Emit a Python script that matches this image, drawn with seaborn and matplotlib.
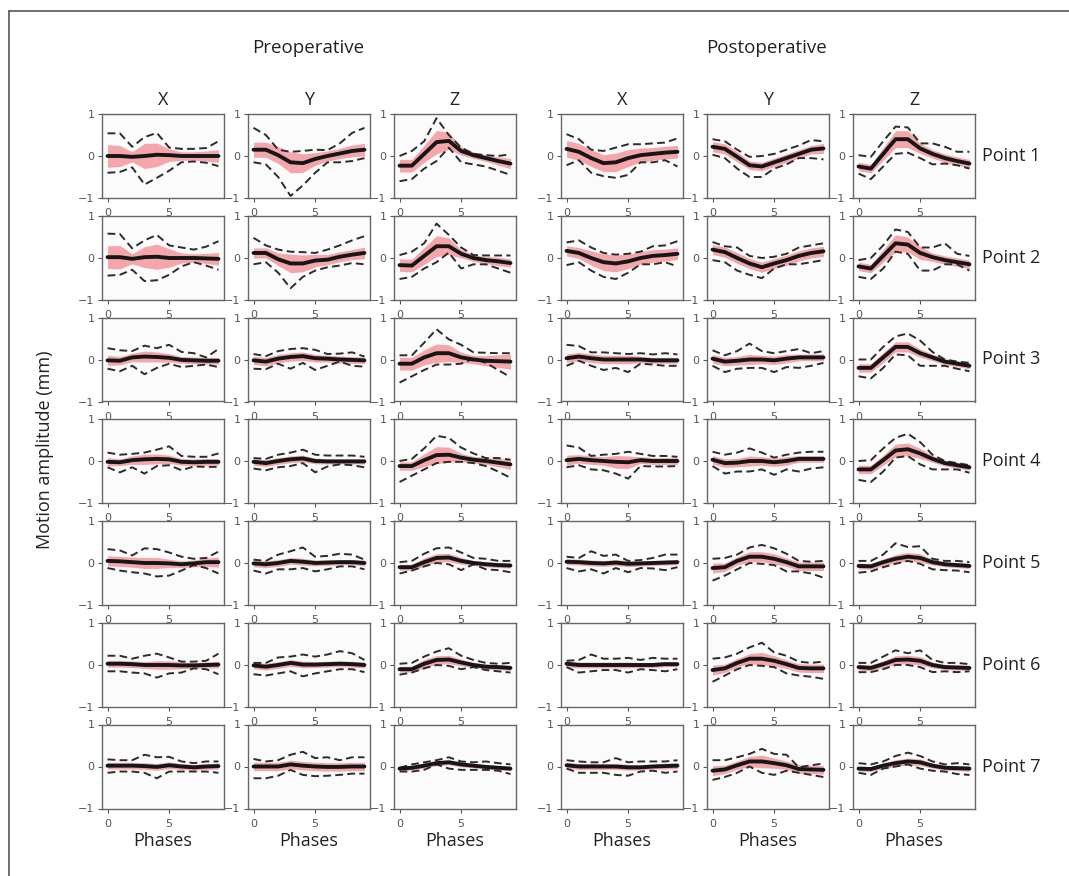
import numpy as np
import matplotlib
matplotlib.use("Agg")
import matplotlib.pyplot as plt
from matplotlib.lines import Line2D
import seaborn as sns

phases = list(range(10))
points = ["Point 1", "Point 2", "Point 3", "Point 4", "Point 5", "Point 6", "Point 7"]
directions = ["X", "Y", "Z"]
groups = ["Preoperative", "Postoperative"]

# ---- Preoperative: mean, sd (band half width), min / max (dashed), one row per point ----
pre_mean_x = [
    [0, 0, -0.02, 0, 0.03, 0.02, 0, 0, 0, 0],
    [0.02, 0.02, -0.02, 0.02, 0.03, 0, 0, 0, -0.01, -0.02],
    [-0.02, -0.03, 0.05, 0.07, 0.06, 0.04, -0.01, -0.02, -0.03, -0.03],
    [-0.02, -0.03, 0.02, 0.04, 0.05, 0.04, -0.02, -0.03, -0.02, -0.02],
    [0.05, 0.04, 0.02, 0.0, 0.0, -0.01, -0.03, -0.01, 0.02, 0.02],
    [0.03, 0.03, 0.02, 0.0, 0.0, 0.0, -0.01, -0.01, 0.0, 0.01],
    [0.02, 0.02, 0.02, 0.01, -0.01, 0.03, 0.0, -0.02, 0.0, 0.01],
]
pre_sd_x = [
    [0.27, 0.25, 0.12, 0.3, 0.28, 0.15, 0.1, 0.1, 0.12, 0.15],
    [0.27, 0.28, 0.12, 0.25, 0.3, 0.22, 0.12, 0.1, 0.12, 0.15],
    [0.12, 0.1, 0.1, 0.13, 0.12, 0.1, 0.08, 0.08, 0.08, 0.08],
    [0.1, 0.08, 0.1, 0.12, 0.12, 0.1, 0.08, 0.08, 0.08, 0.08],
    [0.12, 0.12, 0.12, 0.13, 0.13, 0.1, 0.08, 0.08, 0.1, 0.12],
    [0.08, 0.08, 0.08, 0.08, 0.1, 0.1, 0.08, 0.07, 0.07, 0.08],
    [0.08, 0.08, 0.08, 0.08, 0.08, 0.08, 0.07, 0.07, 0.07, 0.07],
]
pre_lo_x = [
    [-0.4, -0.38, -0.27, -0.68, -0.52, -0.35, -0.15, -0.13, -0.16, -0.24],
    [-0.42, -0.4, -0.28, -0.55, -0.53, -0.4, -0.2, -0.1, -0.18, -0.28],
    [-0.22, -0.28, -0.15, -0.35, -0.2, -0.1, -0.18, -0.15, -0.12, -0.18],
    [-0.15, -0.27, -0.15, -0.3, -0.12, -0.1, -0.22, -0.13, -0.14, -0.14],
    [-0.12, -0.18, -0.22, -0.25, -0.32, -0.3, -0.18, -0.05, -0.12, -0.25],
    [-0.15, -0.15, -0.18, -0.2, -0.3, -0.2, -0.18, -0.08, -0.1, -0.22],
    [-0.15, -0.12, -0.12, -0.15, -0.28, -0.12, -0.12, -0.12, -0.12, -0.15],
]
pre_hi_x = [
    [0.54, 0.54, 0.22, 0.45, 0.55, 0.2, 0.17, 0.17, 0.19, 0.35],
    [0.58, 0.57, 0.23, 0.42, 0.55, 0.3, 0.25, 0.2, 0.27, 0.4],
    [0.27, 0.22, 0.2, 0.33, 0.27, 0.35, 0.18, 0.15, 0.05, 0.25],
    [0.2, 0.15, 0.17, 0.2, 0.27, 0.35, 0.12, 0.1, 0.1, 0.18],
    [0.33, 0.3, 0.18, 0.35, 0.33, 0.25, 0.15, 0.1, 0.12, 0.27],
    [0.22, 0.22, 0.15, 0.22, 0.27, 0.18, 0.08, 0.08, 0.1, 0.27],
    [0.17, 0.15, 0.15, 0.28, 0.22, 0.23, 0.12, 0.08, 0.12, 0.12],
]

pre_mean_y = [
    [0.15, 0.15, 0.02, -0.15, -0.17, -0.07, 0, 0.06, 0.12, 0.15],
    [0.12, 0.12, -0.03, -0.13, -0.13, -0.06, -0.04, 0.03, 0.08, 0.12],
    [-0.02, -0.05, 0.02, 0.06, 0.08, 0.03, 0.02, 0.0, -0.01, -0.02],
    [-0.02, -0.05, 0.0, 0.04, 0.06, 0.0, -0.01, -0.01, -0.01, -0.01],
    [-0.01, -0.03, 0.0, 0.05, 0.03, 0.0, 0.01, 0.02, 0.02, 0.0],
    [-0.01, -0.04, 0.0, 0.05, 0.01, 0.01, 0.02, 0.03, 0.02, 0.0],
    [0.0, 0.0, 0.0, 0.05, 0.02, 0.0, -0.01, -0.01, 0.0, 0.0],
]
pre_sd_y = [
    [0.18, 0.18, 0.2, 0.25, 0.22, 0.15, 0.12, 0.12, 0.14, 0.15],
    [0.12, 0.12, 0.15, 0.22, 0.2, 0.15, 0.12, 0.12, 0.12, 0.14],
    [0.1, 0.1, 0.1, 0.1, 0.1, 0.09, 0.08, 0.08, 0.08, 0.08],
    [0.08, 0.08, 0.08, 0.08, 0.08, 0.07, 0.06, 0.06, 0.06, 0.06],
    [0.08, 0.08, 0.08, 0.08, 0.08, 0.07, 0.07, 0.06, 0.06, 0.07],
    [0.08, 0.08, 0.08, 0.08, 0.08, 0.07, 0.07, 0.07, 0.07, 0.07],
    [0.1, 0.1, 0.1, 0.1, 0.1, 0.1, 0.1, 0.1, 0.1, 0.1],
]
pre_lo_y = [
    [-0.15, -0.2, -0.5, -0.95, -0.7, -0.4, -0.15, -0.15, -0.12, -0.05],
    [-0.15, -0.1, -0.35, -0.72, -0.45, -0.3, -0.22, -0.18, -0.12, -0.15],
    [-0.22, -0.23, -0.1, -0.22, -0.08, -0.25, -0.15, -0.05, -0.15, -0.17],
    [-0.18, -0.22, -0.15, -0.12, -0.05, -0.27, -0.13, -0.08, -0.1, -0.15],
    [-0.18, -0.25, -0.15, -0.15, -0.12, -0.2, -0.15, -0.08, -0.08, -0.15],
    [-0.22, -0.25, -0.2, -0.15, -0.27, -0.2, -0.15, -0.1, -0.1, -0.17],
    [-0.28, -0.28, -0.22, -0.08, -0.2, -0.23, -0.22, -0.2, -0.17, -0.17],
]
pre_hi_y = [
    [0.67, 0.5, 0.15, 0.1, 0.12, 0.15, 0.14, 0.3, 0.55, 0.67],
    [0.48, 0.3, 0.2, 0.15, 0.14, 0.12, 0.2, 0.3, 0.42, 0.52],
    [0.13, 0.08, 0.2, 0.25, 0.27, 0.23, 0.13, 0.14, 0.17, 0.07],
    [0.07, 0.05, 0.15, 0.2, 0.27, 0.15, 0.13, 0.13, 0.13, 0.1],
    [0.08, 0.05, 0.2, 0.28, 0.37, 0.15, 0.17, 0.22, 0.2, 0.08],
    [0.05, 0.05, 0.18, 0.2, 0.25, 0.2, 0.25, 0.33, 0.28, 0.12],
    [0.18, 0.12, 0.15, 0.28, 0.35, 0.2, 0.22, 0.15, 0.22, 0.22],
]

pre_mean_z = [
    [-0.23, -0.23, 0.05, 0.33, 0.36, 0.12, 0.02, -0.05, -0.12, -0.18],
    [-0.17, -0.18, 0.05, 0.28, 0.28, 0.1, 0.0, -0.05, -0.08, -0.12],
    [-0.1, -0.1, 0.05, 0.15, 0.15, 0.05, 0.0, -0.03, -0.04, -0.05],
    [-0.12, -0.12, 0.02, 0.14, 0.15, 0.08, 0.03, 0.0, -0.04, -0.08],
    [-0.1, -0.1, 0.02, 0.12, 0.13, 0.05, 0.0, -0.03, -0.05, -0.06],
    [-0.1, -0.1, 0.03, 0.12, 0.13, 0.06, 0.0, -0.04, -0.05, -0.07],
    [-0.05, -0.03, 0.02, 0.08, 0.1, 0.05, 0.02, -0.01, -0.03, -0.05],
]
pre_sd_z = [
    [0.15, 0.15, 0.2, 0.28, 0.2, 0.1, 0.08, 0.08, 0.1, 0.12],
    [0.15, 0.15, 0.2, 0.25, 0.2, 0.1, 0.08, 0.08, 0.1, 0.1],
    [0.15, 0.15, 0.18, 0.22, 0.2, 0.12, 0.1, 0.12, 0.15, 0.18],
    [0.1, 0.1, 0.15, 0.2, 0.18, 0.1, 0.08, 0.08, 0.1, 0.12],
    [0.07, 0.07, 0.1, 0.1, 0.1, 0.08, 0.06, 0.06, 0.06, 0.06],
    [0.07, 0.07, 0.1, 0.1, 0.1, 0.08, 0.06, 0.06, 0.06, 0.06],
    [0.05, 0.05, 0.06, 0.06, 0.06, 0.06, 0.05, 0.05, 0.05, 0.05],
]
pre_lo_z = [
    [-0.6, -0.55, -0.3, -0.12, 0.2, -0.15, -0.2, -0.25, -0.35, -0.45],
    [-0.5, -0.45, -0.25, -0.1, 0.13, -0.25, -0.15, -0.15, -0.25, -0.35],
    [-0.55, -0.4, -0.25, -0.12, -0.12, -0.1, 0.02, -0.08, -0.25, -0.42],
    [-0.5, -0.35, -0.2, -0.05, -0.02, -0.02, -0.05, -0.12, -0.25, -0.4],
    [-0.25, -0.18, -0.08, 0.0, -0.03, -0.17, -0.03, -0.15, -0.17, -0.22],
    [-0.23, -0.18, -0.08, 0.0, -0.02, -0.1, -0.05, -0.12, -0.15, -0.18],
    [-0.12, -0.12, -0.08, 0.05, -0.05, -0.08, -0.08, -0.08, -0.1, -0.18],
]
pre_hi_z = [
    [0.0, 0.12, 0.35, 0.9, 0.5, 0.2, 0.05, 0.02, 0.0, 0.04],
    [0.07, 0.15, 0.35, 0.82, 0.55, 0.25, 0.07, 0.06, 0.06, 0.06],
    [0.1, 0.1, 0.4, 0.72, 0.48, 0.35, 0.17, 0.16, 0.15, 0.15],
    [0.0, 0.05, 0.3, 0.6, 0.55, 0.32, 0.18, 0.07, 0.07, 0.03],
    [0.02, 0.05, 0.22, 0.35, 0.37, 0.25, 0.12, 0.1, 0.05, 0.05],
    [0.03, 0.05, 0.2, 0.32, 0.4, 0.22, 0.12, 0.05, 0.03, 0.05],
    [-0.03, 0.05, 0.1, 0.15, 0.22, 0.12, 0.1, 0.12, 0.08, 0.05],
]

# ---- Postoperative ----
post_mean_x = [
    [0.17, 0.1, -0.05, -0.17, -0.15, -0.05, 0.02, 0.05, 0.08, 0.1],
    [0.17, 0.12, 0.0, -0.1, -0.13, -0.08, 0.0, 0.05, 0.07, 0.1],
    [0.03, 0.07, 0.03, 0.0, 0.0, 0.0, 0.0, -0.02, -0.02, -0.02],
    [0.02, 0.05, 0.02, 0.0, -0.02, -0.03, 0.02, 0.0, 0.0, 0.0],
    [0.03, 0.02, 0.0, -0.01, 0.01, -0.02, -0.01, 0.0, 0.01, 0.02],
    [0.03, 0.0, 0.0, 0.0, 0.0, 0.0, 0.0, 0.0, 0.02, 0.02],
    [0.03, 0.0, 0.0, 0.0, 0.0, -0.02, -0.02, 0.0, 0.01, 0.02],
]
post_sd_x = [
    [0.2, 0.2, 0.2, 0.2, 0.22, 0.2, 0.17, 0.15, 0.15, 0.15],
    [0.12, 0.13, 0.17, 0.2, 0.2, 0.17, 0.15, 0.15, 0.14, 0.14],
    [0.1, 0.1, 0.1, 0.1, 0.1, 0.1, 0.08, 0.07, 0.07, 0.07],
    [0.12, 0.1, 0.1, 0.1, 0.15, 0.15, 0.08, 0.08, 0.08, 0.08],
    [0.07, 0.07, 0.07, 0.07, 0.07, 0.07, 0.06, 0.06, 0.06, 0.06],
    [0.07, 0.07, 0.07, 0.07, 0.07, 0.07, 0.06, 0.06, 0.06, 0.06],
    [0.07, 0.07, 0.07, 0.07, 0.07, 0.07, 0.06, 0.06, 0.07, 0.07],
]
post_lo_x = [
    [-0.22, -0.1, -0.4, -0.48, -0.52, -0.45, -0.15, -0.15, -0.1, -0.25],
    [-0.17, -0.1, -0.3, -0.45, -0.5, -0.35, -0.15, -0.15, -0.1, -0.2],
    [-0.15, -0.03, -0.15, -0.25, -0.2, -0.3, -0.1, -0.12, -0.15, -0.15],
    [-0.15, -0.1, -0.2, -0.22, -0.3, -0.42, -0.12, -0.13, -0.13, -0.12],
    [-0.12, -0.2, -0.15, -0.25, -0.12, -0.22, -0.12, -0.13, -0.17, -0.1],
    [-0.05, -0.18, -0.15, -0.12, -0.12, -0.18, -0.1, -0.12, -0.15, -0.1],
    [-0.05, -0.15, -0.15, -0.15, -0.2, -0.22, -0.12, -0.1, -0.15, -0.12],
]
post_hi_x = [
    [0.52, 0.4, 0.15, 0.12, 0.2, 0.28, 0.28, 0.3, 0.32, 0.42],
    [0.37, 0.42, 0.25, 0.12, 0.08, 0.1, 0.15, 0.28, 0.3, 0.4],
    [0.35, 0.32, 0.17, 0.17, 0.15, 0.13, 0.15, 0.12, 0.15, 0.12],
    [0.37, 0.32, 0.12, 0.15, 0.17, 0.22, 0.17, 0.12, 0.12, 0.1],
    [0.15, 0.12, 0.28, 0.17, 0.2, 0.05, 0.07, 0.12, 0.2, 0.2],
    [0.1, 0.12, 0.25, 0.15, 0.15, 0.17, 0.12, 0.17, 0.15, 0.15],
    [0.15, 0.12, 0.1, 0.1, 0.2, 0.1, 0.12, 0.12, 0.12, 0.15],
]

post_mean_y = [
    [0.22, 0.17, -0.02, -0.22, -0.25, -0.15, -0.05, 0.05, 0.15, 0.18],
    [0.2, 0.14, 0.0, -0.13, -0.22, -0.13, -0.05, 0.05, 0.12, 0.16],
    [0.02, -0.05, -0.03, 0.0, 0.0, -0.02, 0.02, 0.05, 0.05, 0.05],
    [0.03, -0.05, -0.04, 0.0, 0.0, -0.03, 0.0, 0.05, 0.05, 0.05],
    [-0.12, -0.1, 0.05, 0.15, 0.15, 0.1, 0.02, -0.08, -0.08, -0.08],
    [-0.12, -0.08, 0.05, 0.15, 0.15, 0.1, 0.02, -0.07, -0.08, -0.08],
    [-0.1, -0.07, 0.03, 0.12, 0.12, 0.08, 0.03, -0.06, -0.07, -0.08],
]
post_sd_y = [
    [0.12, 0.12, 0.12, 0.1, 0.1, 0.1, 0.1, 0.1, 0.1, 0.12],
    [0.12, 0.12, 0.13, 0.12, 0.12, 0.12, 0.12, 0.12, 0.12, 0.12],
    [0.1, 0.1, 0.1, 0.12, 0.1, 0.1, 0.1, 0.08, 0.08, 0.08],
    [0.1, 0.1, 0.1, 0.12, 0.1, 0.1, 0.1, 0.08, 0.08, 0.08],
    [0.12, 0.1, 0.1, 0.12, 0.12, 0.12, 0.1, 0.1, 0.1, 0.1],
    [0.12, 0.1, 0.1, 0.12, 0.15, 0.12, 0.1, 0.1, 0.1, 0.1],
    [0.12, 0.1, 0.1, 0.12, 0.15, 0.12, 0.1, 0.1, 0.1, 0.1],
]
post_lo_y = [
    [0.03, -0.05, -0.3, -0.5, -0.5, -0.3, -0.2, -0.05, -0.05, -0.08],
    [-0.05, -0.1, -0.3, -0.4, -0.48, -0.25, -0.15, -0.15, -0.1, -0.05],
    [-0.15, -0.3, -0.22, -0.2, -0.2, -0.3, -0.18, -0.2, -0.15, -0.08],
    [-0.12, -0.3, -0.25, -0.25, -0.2, -0.33, -0.2, -0.25, -0.18, -0.15],
    [-0.42, -0.3, -0.15, 0.0, -0.02, -0.05, -0.2, -0.2, -0.25, -0.35],
    [-0.4, -0.25, -0.1, 0.0, -0.02, -0.05, -0.2, -0.25, -0.28, -0.33],
    [-0.32, -0.25, -0.15, 0.0, -0.15, -0.2, -0.1, -0.15, -0.2, -0.25],
]
post_hi_y = [
    [0.4, 0.35, 0.15, -0.02, 0.0, 0.05, 0.15, 0.25, 0.38, 0.35],
    [0.38, 0.28, 0.25, 0.05, 0.0, 0.03, 0.1, 0.25, 0.3, 0.35],
    [0.22, 0.1, 0.2, 0.38, 0.2, 0.15, 0.2, 0.25, 0.15, 0.2],
    [0.22, 0.15, 0.2, 0.3, 0.2, 0.08, 0.15, 0.2, 0.22, 0.22],
    [0.1, 0.12, 0.2, 0.37, 0.43, 0.35, 0.22, 0.05, 0.03, 0.05],
    [0.15, 0.18, 0.27, 0.42, 0.53, 0.3, 0.22, 0.08, 0.05, 0.08],
    [0.15, 0.15, 0.22, 0.3, 0.42, 0.3, 0.28, -0.02, 0.03, 0.07],
]

post_mean_z = [
    [-0.25, -0.3, 0.05, 0.4, 0.4, 0.18, 0.05, -0.05, -0.12, -0.18],
    [-0.2, -0.25, 0.05, 0.35, 0.32, 0.12, 0.02, -0.05, -0.1, -0.15],
    [-0.2, -0.2, 0.05, 0.3, 0.3, 0.15, 0.05, -0.05, -0.1, -0.15],
    [-0.2, -0.2, 0.02, 0.25, 0.28, 0.18, 0.05, -0.05, -0.1, -0.15],
    [-0.07, -0.08, 0.02, 0.1, 0.15, 0.12, 0.02, -0.03, -0.05, -0.07],
    [-0.05, -0.07, 0.02, 0.12, 0.13, 0.1, 0.0, -0.05, -0.06, -0.07],
    [-0.05, -0.06, 0.02, 0.08, 0.12, 0.1, 0.02, -0.03, -0.04, -0.05],
]
post_sd_z = [
    [0.1, 0.1, 0.15, 0.2, 0.2, 0.12, 0.1, 0.1, 0.1, 0.1],
    [0.1, 0.1, 0.15, 0.2, 0.18, 0.15, 0.1, 0.1, 0.1, 0.1],
    [0.1, 0.1, 0.12, 0.12, 0.12, 0.1, 0.08, 0.07, 0.07, 0.07],
    [0.1, 0.1, 0.12, 0.15, 0.15, 0.12, 0.08, 0.07, 0.07, 0.07],
    [0.07, 0.07, 0.08, 0.1, 0.1, 0.1, 0.07, 0.06, 0.06, 0.06],
    [0.07, 0.07, 0.08, 0.1, 0.1, 0.1, 0.07, 0.06, 0.06, 0.06],
    [0.06, 0.06, 0.07, 0.08, 0.08, 0.08, 0.06, 0.06, 0.06, 0.06],
]
post_lo_z = [
    [-0.42, -0.55, -0.25, 0.05, 0.08, -0.05, -0.2, -0.18, -0.22, -0.3],
    [-0.45, -0.5, -0.25, 0.15, 0.1, -0.3, -0.3, -0.15, -0.15, -0.3],
    [-0.4, -0.45, -0.2, 0.12, 0.1, -0.15, -0.15, -0.15, -0.22, -0.28],
    [-0.45, -0.5, -0.25, 0.08, 0.12, -0.08, -0.2, -0.2, -0.2, -0.28],
    [-0.23, -0.2, -0.1, -0.02, 0.05, -0.02, -0.15, -0.17, -0.18, -0.22],
    [-0.17, -0.17, -0.1, 0.0, 0.0, -0.05, -0.17, -0.15, -0.17, -0.15],
    [-0.15, -0.2, -0.05, 0.0, 0.05, -0.05, -0.1, -0.12, -0.18, -0.2],
]
post_hi_z = [
    [0.02, -0.02, 0.35, 0.7, 0.68, 0.3, 0.3, 0.22, 0.1, 0.1],
    [-0.05, 0.0, 0.3, 0.68, 0.62, 0.25, 0.25, 0.35, 0.1, 0.05],
    [0.0, 0.0, 0.3, 0.55, 0.62, 0.45, 0.18, 0.0, -0.05, -0.08],
    [0.0, 0.02, 0.3, 0.55, 0.65, 0.45, 0.15, 0.0, -0.05, -0.1],
    [0.05, 0.05, 0.2, 0.47, 0.38, 0.4, 0.1, 0.05, 0.05, 0.02],
    [0.05, 0.05, 0.2, 0.35, 0.28, 0.35, 0.12, 0.05, 0.05, 0.02],
    [0.08, 0.05, 0.12, 0.25, 0.33, 0.25, 0.12, 0.05, 0.08, 0.05],
]

series = [
    (pre_mean_x, pre_sd_x, pre_lo_x, pre_hi_x),
    (pre_mean_y, pre_sd_y, pre_lo_y, pre_hi_y),
    (pre_mean_z, pre_sd_z, pre_lo_z, pre_hi_z),
    (post_mean_x, post_sd_x, post_lo_x, post_hi_x),
    (post_mean_y, post_sd_y, post_lo_y, post_hi_y),
    (post_mean_z, post_sd_z, post_lo_z, post_hi_z),
]

sns.set_style("ticks")
plt.rcParams["font.family"] = ["DejaVu Sans"]
text_font = ["Open Sans", "DejaVu Sans"]

W, H = 1069, 876
fig = plt.figure(figsize=(W / 100, H / 100), dpi=100)

col_left = [102, 248, 394, 561, 707, 853]
row_top = [114, 216, 317.5, 419, 521, 623, 724.5]
pw, ph = 122, 84

for r in range(len(points)):
    for c in range(6):
        mean, sd, lo, hi = [np.array(a[r]) for a in series[c]]
        ax = fig.add_axes([col_left[c] / W, 1 - (row_top[r] + ph) / H, pw / W, ph / H])
        ax.set_facecolor("#fbfbfb")
        ax.fill_between(phases, mean - sd, mean + sd, color="#f4a6ab", lw=0, zorder=1)
        sns.lineplot(x=phases, y=hi, ax=ax, color="#2b2b2b", lw=1.4,
                     linestyle=(0, (4, 2.2)), zorder=3)
        sns.lineplot(x=phases, y=lo, ax=ax, color="#2b2b2b", lw=1.4,
                     linestyle=(0, (4, 2.2)), zorder=3)
        sns.lineplot(x=phases, y=mean, ax=ax, color="#161616", lw=2.8, zorder=4)
        ax.set_xlim(-0.45, 9.45)
        ax.set_ylim(-1, 1)
        ax.set_xticks([0, 5])
        ax.set_yticks([-1, 0, 1])
        ax.set_xlabel("")
        ax.set_ylabel("")
        ax.tick_params(labelsize=8, length=3, width=0.8, colors="#555555")
        ax.tick_params(axis="x", pad=4.5)
        ax.tick_params(axis="y", pad=2.5)
        for s in ax.spines.values():
            s.set_color("#666666")
            s.set_linewidth(1.0)

# group and column titles
fig.text(308 / W, 1 - 48 / H, groups[0], ha="center", va="center",
         fontsize=13.5, family=text_font, color="#222222")
fig.text(767 / W, 1 - 48 / H, groups[1], ha="center", va="center",
         fontsize=13.5, family=text_font, color="#222222")
for c in range(6):
    cx = (col_left[c] + pw / 2) / W
    fig.text(cx, 1 - 100 / H, directions[c % 3], ha="center", va="center",
             fontsize=13, family=text_font, color="#222222")
    fig.text(cx, 1 - 841 / H, "Phases", ha="center", va="center",
             fontsize=13, family=text_font, color="#222222")

for r, name in enumerate(points):
    fig.text(982 / W, 1 - (row_top[r] + ph / 2) / H, name, ha="left", va="center",
             fontsize=13, family=text_font, color="#222222")

fig.text(45 / W, 1 - 450 / H, "Motion amplitude (mm)", rotation=90, ha="center",
         va="center", fontsize=13, family=text_font, color="#222222")

# thin frame on left and top
fig.add_artist(Line2D([9 / W, 9 / W], [0, 1 - 11 / H], transform=fig.transFigure,
                      color="#555555", lw=1.2))
fig.add_artist(Line2D([9 / W, 1], [1 - 11 / H, 1 - 11 / H], transform=fig.transFigure,
                      color="#555555", lw=1.2))

fig.savefig("out.png", dpi=100)
